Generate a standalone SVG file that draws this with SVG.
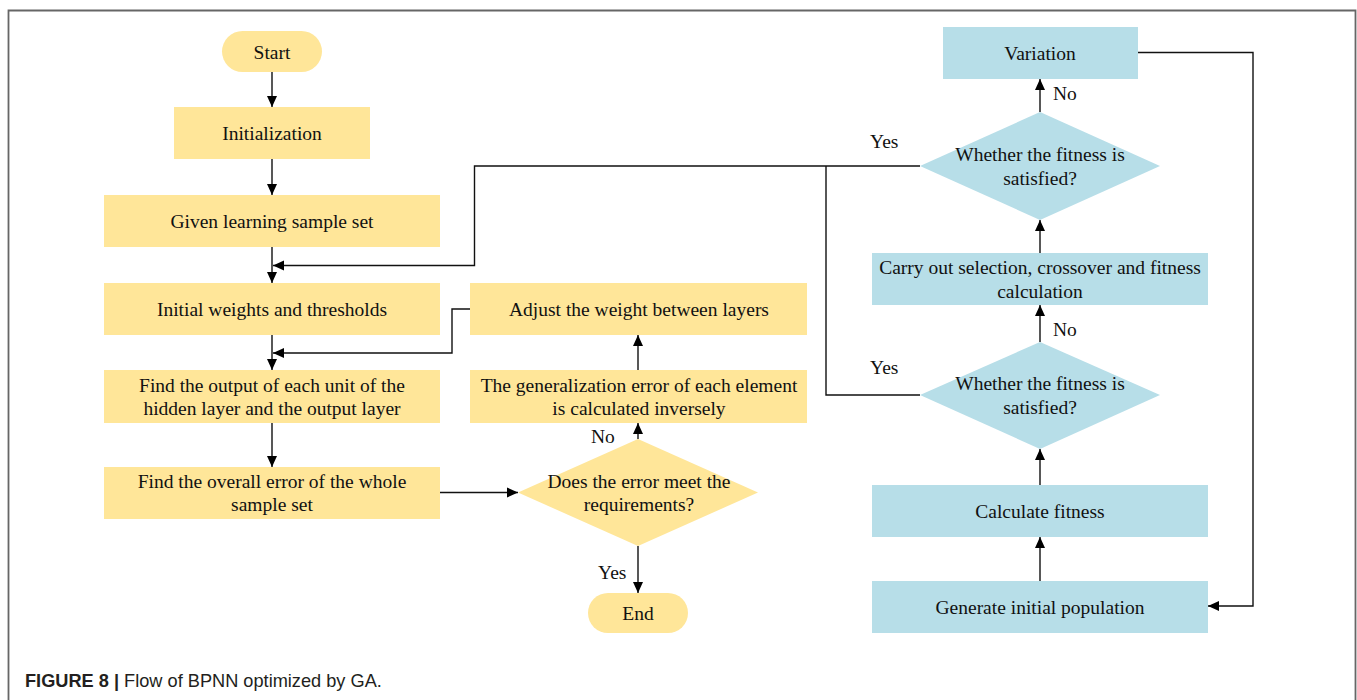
<svg xmlns="http://www.w3.org/2000/svg" width="1357" height="700" viewBox="0 0 1357 700">
<style>
.y{fill:#FFE699}
.b{fill:#B7DEE8}
.t{font-family:"Liberation Serif","Times New Roman",serif;font-size:19.5px;fill:#111;text-anchor:middle}
.l{font-family:"Liberation Serif","Times New Roman",serif;font-size:19.5px;fill:#111}
.c{fill:none;stroke:#111;stroke-width:1.4}
</style>
<defs>
<marker id="ah" markerUnits="userSpaceOnUse" markerWidth="11" markerHeight="11" refX="11" refY="5.5" orient="auto">
<path d="M0,0.5 L11,5.5 L0,10.5 z" fill="#000"/>
</marker>
</defs>
<rect x="0" y="0" width="1357" height="700" fill="#fff"/>
<path d="M8.5,700 V10.5 H1355.5 V700" fill="none" stroke="#666" stroke-width="1.8"/>

<g id="start"><rect class="y" x="222" y="31" width="100" height="41" rx="20.5"/><text class="t" x="272" y="58.5">Start</text></g>
<g id="init"><rect class="y" x="174" y="107" width="196" height="52"/><text class="t" x="272" y="140">Initialization</text></g>
<g id="given"><rect class="y" x="104" y="195" width="336" height="52"/><text class="t" x="272" y="228">Given learning sample set</text></g>
<g id="weights"><rect class="y" x="104" y="283" width="336" height="52"/><text class="t" x="272" y="316">Initial weights and thresholds</text></g>
<g id="findout"><rect class="y" x="104" y="370" width="336" height="53"/><text class="t" x="272" y="391.8">Find the output of each unit of the</text><text class="t" x="272" y="415.2">hidden layer and the output layer</text></g>
<g id="overall"><rect class="y" x="104" y="467" width="336" height="52"/><text class="t" x="272" y="487.6">Find the overall error of the whole</text><text class="t" x="272" y="511">sample set</text></g>
<g id="decision"><polygon class="y" points="518,492.5 638,439 758,492.5 638,546"/><text class="t" x="639" y="487.5">Does the error meet the</text><text class="t" x="639" y="510.8">requirements?</text></g>
<g id="generr"><rect class="y" x="470" y="370" width="337" height="53"/><text class="t" x="639" y="391.8">The generalization error of each element</text><text class="t" x="639" y="415.2">is calculated inversely</text></g>
<g id="adjust"><rect class="y" x="470" y="283" width="337" height="52"/><text class="t" x="639" y="316">Adjust the weight between layers</text></g>
<g id="end"><rect class="y" x="588" y="593" width="100" height="40" rx="20"/><text class="t" x="638" y="619.5">End</text></g>

<g id="variation"><rect class="b" x="943" y="27" width="195" height="52"/><text class="t" x="1040" y="60">Variation</text></g>
<g id="fit1"><polygon class="b" points="920,166 1040,112 1160,166 1040,220"/><text class="t" x="1040" y="161.3">Whether the fitness is</text><text class="t" x="1040" y="184.7">satisfied?</text></g>
<g id="carry"><rect class="b" x="872" y="253" width="336" height="52"/><text class="t" x="1040" y="274.3">Carry out selection, crossover and fitness</text><text class="t" x="1040" y="297.7">calculation</text></g>
<g id="fit2"><polygon class="b" points="920,395 1040,342 1160,395 1040,449"/><text class="t" x="1040" y="390.3">Whether the fitness is</text><text class="t" x="1040" y="413.7">satisfied?</text></g>
<g id="calc"><rect class="b" x="872" y="485" width="336" height="52"/><text class="t" x="1040" y="518">Calculate fitness</text></g>
<g id="genpop"><rect class="b" x="872" y="581" width="336" height="52"/><text class="t" x="1040" y="614">Generate initial population</text></g>

<g id="connectors">
<path class="c" d="M272,72 V107" marker-end="url(#ah)"/>
<path class="c" d="M272,159 V195" marker-end="url(#ah)"/>
<path class="c" d="M272,247 V283" marker-end="url(#ah)"/>
<path class="c" d="M272,335 V370" marker-end="url(#ah)"/>
<path class="c" d="M272,423 V467" marker-end="url(#ah)"/>
<path class="c" d="M440,492.5 H518" marker-end="url(#ah)"/>
<path class="c" d="M638,439 V423" marker-end="url(#ah)"/>
<path class="c" d="M638,370 V335" marker-end="url(#ah)"/>
<path class="c" d="M470,309 H452 V353 H273" marker-end="url(#ah)"/>
<path class="c" d="M638,546 V593" marker-end="url(#ah)"/>
<path class="c" d="M1040,581 V537" marker-end="url(#ah)"/>
<path class="c" d="M1040,485 V449" marker-end="url(#ah)"/>
<path class="c" d="M1040,342 V305" marker-end="url(#ah)"/>
<path class="c" d="M1040,253 V220" marker-end="url(#ah)"/>
<path class="c" d="M1040,112 V79" marker-end="url(#ah)"/>
<path class="c" d="M1138,52.5 H1253 V606 H1208" marker-end="url(#ah)"/>
<path class="c" d="M920,166 H474.5 V265.5 H273" marker-end="url(#ah)"/>
<path class="c" d="M920,395 H826 V166"/>
<text class="l" x="591" y="443">No</text>
<text class="l" x="598" y="578.5">Yes</text>
<text class="l" x="1053" y="100">No</text>
<text class="l" x="870" y="147.5">Yes</text>
<text class="l" x="1053" y="336">No</text>
<text class="l" x="870" y="373.5">Yes</text>
</g>

<text x="25" y="687" font-family="'Liberation Sans',Arial,sans-serif" font-size="18.2" fill="#231F20"><tspan font-weight="bold">FIGURE 8 |</tspan> Flow of BPNN optimized by GA.</text>
</svg>
